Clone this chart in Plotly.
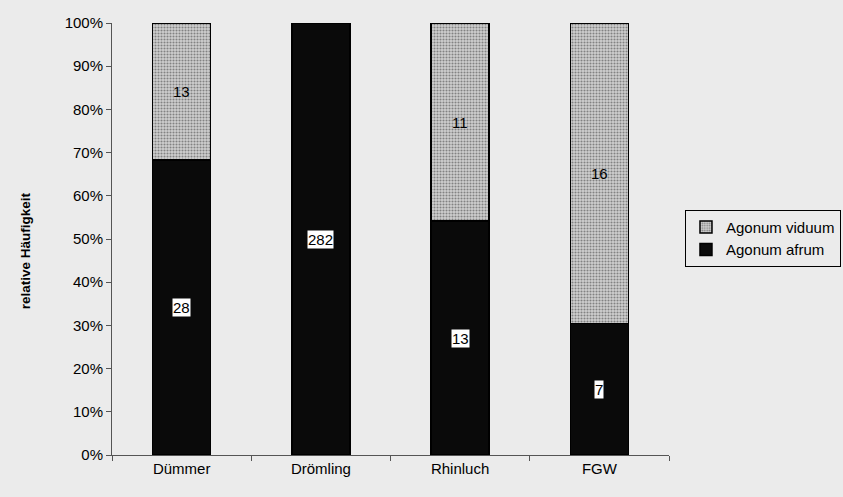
import plotly.graph_objects as go

categories = ["Dümmer", "Drömling", "Rhinluch", "FGW"]
afrum = [28, 282, 13, 7]
viduum = [13, 0, 11, 16]
y_ticks = [0, 10, 20, 30, 40, 50, 60, 70, 80, 90, 100]
y_ticklabels = [f"{t}%" for t in y_ticks]

totals = [a + v for a, v in zip(afrum, viduum)]
afrum_pct = [100 * a / t for a, t in zip(afrum, totals)]
viduum_pct = [100 * v / t for v, t in zip(viduum, totals)]

BG = "#ebebeb"
FONT = "Liberation Sans, Arial, sans-serif"
fig = go.Figure()
fig.add_trace(go.Bar(
    x=categories, y=afrum_pct, name="Agonum afrum",
    marker=dict(color="#0a0a0a", line=dict(color="black", width=1.5)),
))
fig.add_trace(go.Bar(
    x=categories, y=viduum_pct, name="Agonum viduum",
    marker=dict(color="#c0c0c0", line=dict(color="black", width=1.5),
                pattern=dict(shape=".", fgcolor="#333333", bgcolor="#d0d0d0",
                             size=3, solidity=0.4)),
))

annotations = []
for c, a, ap, v, vp in zip(categories, afrum, afrum_pct, viduum, viduum_pct):
    annotations.append(dict(x=c, y=ap / 2, text=str(a), showarrow=False,
                            font=dict(size=15, color="black", family=FONT),
                            bgcolor="white", borderpad=0))
    if v > 0:
        annotations.append(dict(x=c, y=ap + vp / 2, text=str(v), showarrow=False,
                                font=dict(size=15, color="black", family=FONT)))

annotations.append(dict(xref="paper", yref="paper", x=-0.156, y=0.472,
                        xanchor="center", yanchor="middle",
                        text="<b>relative Häufigkeit</b>", textangle=-90, showarrow=False,
                        font=dict(size=13.5, color="black", family=FONT)))

fig.update_layout(
    width=843, height=497,
    barmode="stack", bargap=0.584,
    paper_bgcolor=BG, plot_bgcolor=BG,
    margin=dict(l=112, r=174, t=23, b=42, autoexpand=False),
    font=dict(family=FONT, size=15, color="black"),
    showlegend=True,
    legend=dict(x=1.0287, y=0.502, xanchor="left", yanchor="middle",
                traceorder="reversed", bgcolor=BG, bordercolor="black", borderwidth=1,
                font=dict(size=15), itemwidth=30, tracegroupgap=2),
    annotations=annotations,
)
fig.update_yaxes(range=[0, 100], tickvals=y_ticks, ticktext=y_ticklabels,
                 showgrid=False, zeroline=False, showline=True, linecolor="#555555",
                 linewidth=1, ticks="outside", ticklen=5, tickcolor="#555555")
fig.update_xaxes(showgrid=False, showline=True, linecolor="#555555", linewidth=1,
                 ticks="outside", ticklen=5, tickcolor="#555555", tickson="boundaries")
fig.write_html("out.html", config={"displayModeBar": False},
               post_script="document.body.style.margin='0';document.body.style.background='#ebebeb';document.body.style.overflow='hidden';")
